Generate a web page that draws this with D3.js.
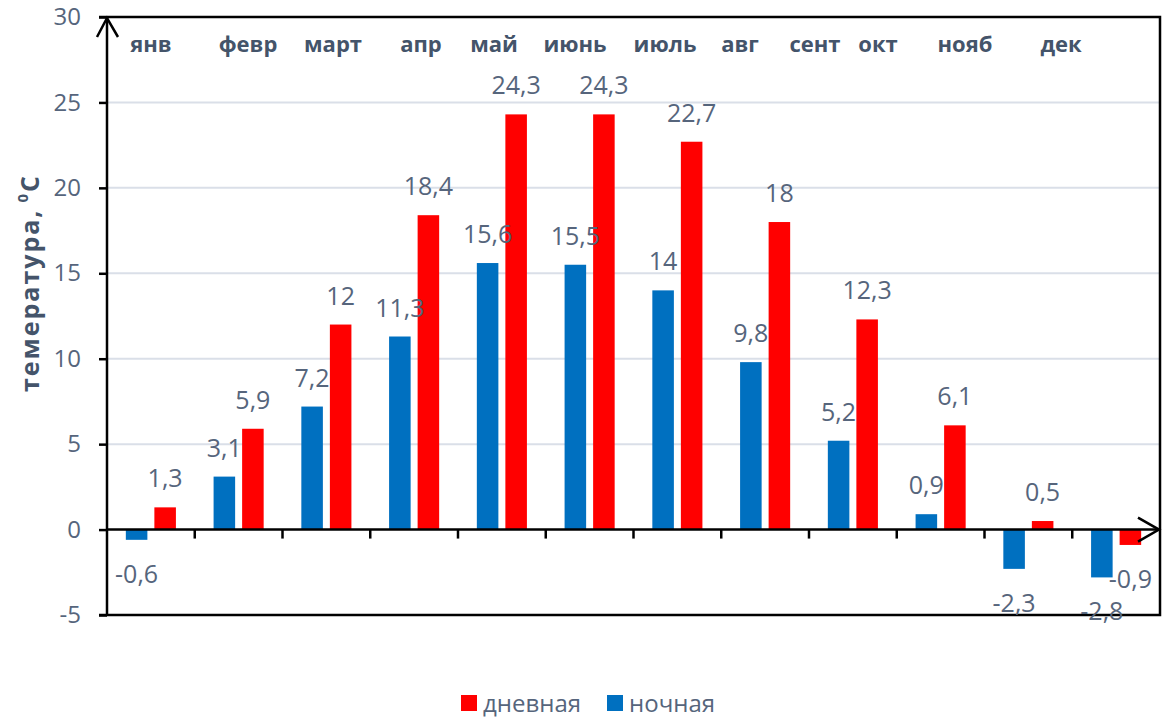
<!DOCTYPE html>
<html>
<head>
<meta charset="utf-8">
<script src="https://cdn.jsdelivr.net/npm/d3@7"></script>
<style>
  body { margin: 0; background: #fff; }
  svg { display: block; font-family: "Open Sans", sans-serif; }
</style>
</head>
<body>
<svg id="chart" width="1176" height="719"></svg>
<script>
// chart data
var months = ["янв", "февр", "март", "апр", "май", "июнь", "июль", "авг", "сент", "окт", "нояб", "дек"];
var dayTemp = [1.3, 5.9, 12, 18.4, 24.3, 24.3, 22.7, 18, 12.3, 6.1, 0.5, -0.9];
var nightTemp = [-0.6, 3.1, 7.2, 11.3, 15.6, 15.5, 14, 9.8, 5.2, 0.9, -2.3, -2.8];
var yTicks = [-5, 0, 5, 10, 15, 20, 25, 30];
var seriesNames = ["ночная", "дневная"];
var legendNames = ["дневная", "ночная"];

// colours
var dayColour = "#ff0000";
var nightColour = "#0070c0";
var axisColour = "#000";
var gridColour = "#dadfe8";
var labelColour = "#56657c";
var headColour = "#44546a";

// month labels sit in a text row at the top, not centred on the bars
var headerX = [151, 248, 333, 421, 494, 575, 665, 740, 815, 878, 965, 1061];

var plotL = 107, plotR = 1160, plotT = 17, plotB = 615;

var svg = d3.select("#chart");

var x = d3.scaleBand().domain(months).range([plotL, plotR]).padding(0);
var xs = d3.scaleBand().domain(seriesNames).range([0, x.bandwidth()])
  .paddingInner(0.245).paddingOuter(0.66);
var y = d3.scaleLinear().domain([-5, 30]).range([plotB, plotT]);

function fmt(v) { return String(v).replace(".", ","); }
function colourOf(name) { return name === "дневная" ? dayColour : nightColour; }

// gridlines
svg.append("g").selectAll("line")
  .data(yTicks.filter(function (t) { return t > 0 && t < 30; }))
  .enter().append("line")
  .attr("x1", plotL).attr("x2", plotR)
  .attr("y1", function (d) { return y(d); })
  .attr("y2", function (d) { return y(d); })
  .attr("stroke", gridColour)
  .attr("stroke-width", 2);

// rows for bars
var rows = [];
months.forEach(function (m, i) {
  rows.push({ month: m, series: "ночная", value: nightTemp[i] });
  rows.push({ month: m, series: "дневная", value: dayTemp[i] });
});

svg.append("g").selectAll("rect")
  .data(rows)
  .enter().append("rect")
  .attr("x", function (d) { return x(d.month) + xs(d.series); })
  .attr("width", xs.bandwidth())
  .attr("y", function (d) { return y(Math.max(0, d.value)); })
  .attr("height", function (d) { return Math.abs(y(d.value) - y(0)); })
  .attr("fill", function (d) { return colourOf(d.series); });

// y axis
var yAxis = d3.axisLeft(y).tickValues(yTicks).tickSize(8).tickPadding(18)
  .tickFormat(function (d) { return d; });
var gy = svg.append("g").attr("transform", "translate(" + plotL + ",0)").call(yAxis);
gy.select(".domain").remove();
gy.selectAll(".tick line").attr("stroke", axisColour).attr("stroke-width", 2.5);
gy.selectAll(".tick text")
  .attr("fill", labelColour)
  .attr("font-size", 24)
  .attr("font-family", "Open Sans, sans-serif");

// frame: top, right, bottom
svg.append("path")
  .attr("d", "M" + (plotL - 8) + "," + plotT + "H" + plotR + "V" + plotB + "H" + (plotL - 8))
  .attr("fill", "none")
  .attr("stroke", axisColour)
  .attr("stroke-width", 2.5);

// vertical axis with arrow
svg.append("line")
  .attr("x1", plotL).attr("x2", plotL)
  .attr("y1", plotB).attr("y2", plotT)
  .attr("stroke", axisColour).attr("stroke-width", 2.5);
svg.append("path")
  .attr("d", "M" + (plotL - 10) + "," + (plotT + 20) + "L" + plotL + "," + (plotT + 1) + "L" + (plotL + 11) + "," + (plotT + 20))
  .attr("fill", "none").attr("stroke", axisColour).attr("stroke-width", 2.5);

// horizontal zero axis with arrow and category ticks
var y0 = y(0);
svg.append("line")
  .attr("x1", plotL).attr("x2", plotR)
  .attr("y1", y0).attr("y2", y0)
  .attr("stroke", axisColour).attr("stroke-width", 2.5);
svg.append("path")
  .attr("d", "M" + (plotR - 22) + "," + (y0 - 12) + "L" + (plotR - 1) + "," + y0 + "L" + (plotR - 22) + "," + (y0 + 12))
  .attr("fill", "none").attr("stroke", axisColour).attr("stroke-width", 2.5);
svg.append("g").selectAll("line")
  .data(months.slice(1))
  .enter().append("line")
  .attr("x1", function (d) { return x(d); })
  .attr("x2", function (d) { return x(d); })
  .attr("y1", y0).attr("y2", y0 + 9)
  .attr("stroke", axisColour).attr("stroke-width", 2.5);

// data labels
svg.append("g").selectAll("text")
  .data(rows)
  .enter().append("text")
  .attr("x", function (d) { return x(d.month) + xs(d.series) + xs.bandwidth() / 2; })
  .attr("y", function (d) {
    return d.value >= 0 ? y(d.value) - 20 : y(d.value) + 43;
  })
  .attr("text-anchor", "middle")
  .attr("font-size", 25)
  .attr("fill", labelColour)
  .text(function (d) { return fmt(d.value); });

// month header row
svg.append("g").selectAll("text")
  .data(months)
  .enter().append("text")
  .attr("x", function (d, i) { return headerX[i]; })
  .attr("y", 52)
  .attr("text-anchor", "middle")
  .attr("font-size", 22)
  .attr("font-weight", "bold")
  .attr("fill", headColour)
  .text(function (d) { return d; });

// y title
var yt = svg.append("text")
  .attr("transform", "translate(39,283) rotate(-90)")
  .attr("text-anchor", "middle")
  .attr("font-size", 25)
  .attr("font-weight", "bold")
  .attr("letter-spacing", 2)
  .attr("fill", headColour);
yt.append("tspan").text("темература,");
yt.append("tspan").attr("font-size", 15).attr("dx", 6).attr("dy", -11).text("0");
yt.append("tspan").attr("dy", 11).text("С");

// legend
var legend = svg.append("g").attr("transform", "translate(461,703)");
var lx = [0, 146];
legendNames.forEach(function (name, i) {
  var g = legend.append("g").attr("transform", "translate(" + lx[i] + ",0)");
  g.append("rect").attr("x", 0).attr("y", -8).attr("width", 16).attr("height", 16)
    .attr("fill", colourOf(name));
  g.append("text").attr("x", 22).attr("y", 9)
    .attr("font-size", 24)
    .attr("fill", labelColour)
    .text(name);
});
</script>
</body>
</html>
